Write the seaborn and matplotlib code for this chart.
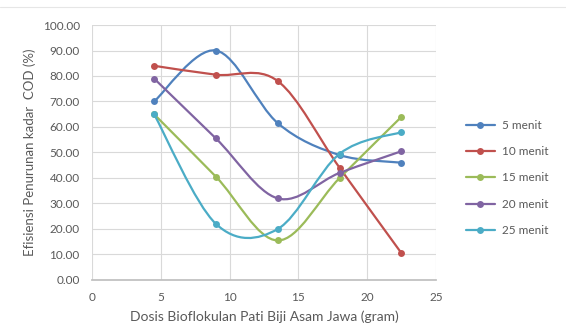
import matplotlib
matplotlib.use("Agg")
import matplotlib.pyplot as plt
import seaborn as sns
import pandas as pd
import numpy as np
from matplotlib.path import Path
from matplotlib.patches import PathPatch
from matplotlib.lines import Line2D

dosis = [4.5, 9, 13.5, 18, 22.5]
menit_5 = [70.0, 90.0, 61.5, 49.0, 46.0]
menit_10 = [84.0, 80.5, 78.0, 44.0, 10.5]
menit_15 = [65.0, 40.5, 15.5, 40.0, 64.0]
menit_20 = [79.0, 55.5, 32.0, 42.0, 50.5]
menit_25 = [65.0, 22.0, 20.0, 49.5, 58.0]
labels = ["5 menit", "10 menit", "15 menit", "20 menit", "25 menit"]
colors = ["#4F81BD", "#C0504D", "#9BBB59", "#8064A2", "#4BACC6"]

series = [menit_5, menit_10, menit_15, menit_20, menit_25]
df = pd.concat([pd.DataFrame({"dosis": dosis, "efisiensi": s, "waktu": lab})
                for s, lab in zip(series, labels)])


def smooth_path(x, y):
    # Excel-style smoothed line: cubic bezier segments through the points
    pts = np.column_stack([x, y])
    n = len(pts)
    verts = [pts[0]]
    codes = [Path.MOVETO]
    for i in range(n - 1):
        p0 = pts[i - 1] if i > 0 else pts[i]
        p1 = pts[i]
        p2 = pts[i + 1]
        p3 = pts[i + 2] if i + 2 < n else pts[i + 1]
        c1 = p1 + (p2 - p0) / 6
        c2 = p2 - (p3 - p1) / 6
        verts += [c1, c2, p2]
        codes += [Path.CURVE4] * 3
    return Path(verts, codes)


sns.set_theme(style="white")
plt.rcParams["font.family"] = ["Lato", "DejaVu Sans"]

fig = plt.figure(figsize=(5.66, 3.29), dpi=100)
ax = fig.add_axes([0.163, 0.149, 0.607, 0.775])

for s, lab, c in zip(series, labels, colors):
    ax.add_patch(PathPatch(smooth_path(dosis, s), facecolor="none",
                           edgecolor=c, lw=1.6, zorder=3))

sns.lineplot(data=df, x="dosis", y="efisiensi", hue="waktu", palette=colors,
             marker="o", markersize=5, markeredgewidth=0, linestyle="",
             legend=False, ax=ax, zorder=4)

ax.set_xlim(0, 25)
ax.set_ylim(0, 100)
ax.set_xticks(range(0, 26, 5))
ax.set_yticks(range(0, 101, 10))
ax.set_yticklabels([f"{v:.2f}" for v in range(0, 101, 10)])
ax.grid(True, color="#D9D9D9", lw=0.8)
ax.set_axisbelow(True)
for side in ["top", "right", "left"]:
    ax.spines[side].set_visible(False)
ax.spines["bottom"].set_color("#BFBFBF")
ax.tick_params(axis="both", labelsize=8.5, colors="#595959", length=0, pad=9)
ax.set_xlabel("Dosis Bioflokulan Pati Biji Asam Jawa (gram)", fontsize=10,
              color="#595959", labelpad=5)
ax.set_ylabel("Efisiensi Penurunan kadar  COD (%)", fontsize=9.5,
              color="#595959", labelpad=5)

handles = [Line2D([0], [0], color=c, lw=1.6, marker="o", markersize=5,
                  markeredgewidth=0) for c in colors]
fig.legend(handles, labels, loc="center left", bbox_to_anchor=(0.805, 0.459),
           frameon=False, fontsize=8.5, labelcolor="#595959",
           handlelength=2.4, labelspacing=1.3, handletextpad=0.6)

fig.add_artist(plt.Line2D([0.0, 1.0], [0.978, 0.978], color="#E6E6E6", lw=0.8))

fig.savefig("out.png", dpi=100)
